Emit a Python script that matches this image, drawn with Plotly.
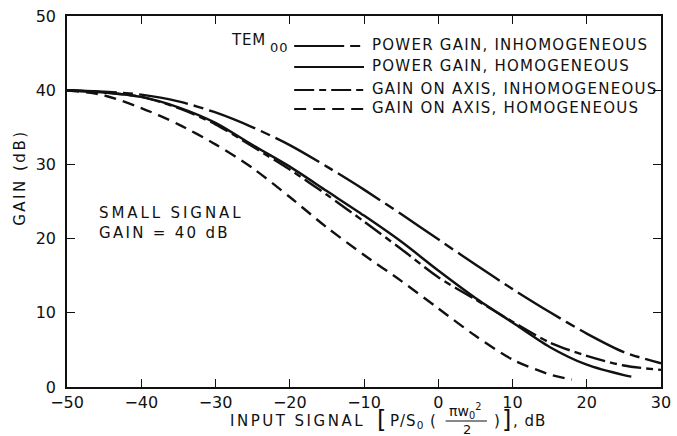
import plotly.graph_objects as go

# ---------------- data ----------------
x_pg_inh = [-50, -45, -40, -35, -30, -25, -20, -15, -10, -5, 0, 5, 10, 15, 20, 25, 30]
y_pg_inh = [40.0, 39.8, 39.4, 38.5, 37.0, 35.0, 32.6, 29.7, 26.6, 23.3, 19.9, 16.5, 13.2, 10.1, 7.2, 4.7, 3.2]

x_pg_hom = [-50, -45, -40, -35, -30, -25, -20, -15, -10, -5, 0, 5, 10, 15, 20, 25, 26]
y_pg_hom = [40.0, 39.7, 39.1, 37.7, 35.6, 32.6, 29.7, 26.4, 23.1, 19.6, 15.7, 12.0, 8.7, 5.4, 3.0, 1.6, 1.4]

x_ga_inh = [-50, -45, -40, -35, -30, -25, -20, -15, -10, -5, 0, 5, 10, 15, 20, 25, 30]
y_ga_inh = [40.0, 39.7, 39.1, 37.6, 35.4, 32.4, 29.3, 25.9, 22.3, 18.6, 14.8, 11.8, 8.8, 6.0, 4.2, 2.9, 2.3]

x_ga_hom = [-50, -45, -40, -35, -30, -25, -20, -15, -10, -5, 0, 5, 10, 15, 18]
y_ga_hom = [40.0, 39.3, 37.6, 35.4, 32.7, 29.5, 25.6, 21.5, 17.8, 14.3, 10.6, 6.9, 3.7, 1.7, 1.0]

series_names = ["POWER GAIN, INHOMOGENEOUS", "POWER GAIN, HOMOGENEOUS",
                "GAIN ON AXIS, INHOMOGENEOUS", "GAIN ON AXIS, HOMOGENEOUS"]
x_ticks = [-50, -40, -30, -20, -10, 0, 10, 20, 30]
y_ticks = [0, 10, 20, 30, 40, 50]

# ---------------- layout geometry ----------------
W, H = 677, 436
L, R, T, B = 67, 671, 16, 387
FONT = "DejaVu Sans"
INK = "#111111"


def px(xp):
    return (xp - L) / (R - L)


def py(yp):
    return (B - yp) / (B - T)


dashes = ["50px,6px,10px,6px", "solid", "20px,5px,7px,5px", "12px,7px"]
xs = [x_pg_inh, x_pg_hom, x_ga_inh, x_ga_hom]
ys = [y_pg_inh, y_pg_hom, y_ga_inh, y_ga_hom]

fig = go.Figure()
for name, xv, yv, d in zip(series_names, xs, ys, dashes):
    fig.add_trace(go.Scatter(x=xv, y=yv, mode="lines", name=name,
                             line=dict(color=INK, width=2.4, dash=d, shape="spline", smoothing=0.8),
                             showlegend=False))

axis_common = dict(showline=True, linecolor=INK, linewidth=1.6, mirror="ticks",
                   ticks="inside", ticklen=8, tickwidth=1.3, tickcolor=INK,
                   showgrid=False, zeroline=False, ticklabeloverflow="allow",
                   tickfont=dict(family=FONT, size=16, color=INK))

fig.update_xaxes(range=[-50, 30], tickvals=x_ticks, ticklabelstandoff=0, **axis_common)
fig.update_yaxes(range=[0, 50], tickvals=y_ticks, ticklabelstandoff=6, **axis_common)

ann = []
shapes = []


def text(x, y, s, size=15, anchor="left", spacing=0.0, angle=0):
    if spacing:
        s = f'<span style="letter-spacing:{spacing}px">{s}</span>'
    ann.append(dict(x=px(x), y=py(y), xref="paper", yref="paper", text=s, showarrow=False,
                    xanchor=anchor, yanchor="middle", textangle=angle,
                    font=dict(family=FONT, size=size, color=INK)))


# legend block
text(232, 40, "TEM", size=15, spacing=0.8)
text(271, 47, "00", size=13, spacing=1.0)
row_y = [45, 66, 89, 108]
for name, d, yy in zip(series_names, dashes, row_y):
    shapes.append(dict(type="line", xref="paper", yref="paper",
                       x0=px(298), x1=px(369), y0=py(yy + 1), y1=py(yy + 1),
                       line=dict(color=INK, width=2.0, dash=d)))
    text(375, yy, name, size=15, spacing=1.25)

# small-signal note
text(98, 213, "SMALL SIGNAL", size=15, spacing=2.9)
text(98, 233, "GAIN = 40 dB", size=15, spacing=2.3)

# y axis title
text(19, 178, "GAIN (dB)", size=15, anchor="center", spacing=2.5, angle=-90)

# x axis title: INPUT SIGNAL [P/S0 (pi w0^2 / 2)], dB
text(231, 421, "INPUT SIGNAL", size=15, spacing=2.5)
text(380, 420, "[", size=24)
text(393, 421, "P/S<sub>0</sub> (", size=15, spacing=1.0)
text(472, 411, "πw<sub>0</sub><sup>2</sup>", size=14, anchor="center")
shapes.append(dict(type="line", xref="paper", yref="paper", x0=px(452), x1=px(494),
                   y0=py(421), y1=py(421), line=dict(color=INK, width=1.2)))
text(474, 429, "2", size=13, anchor="center")
text(499, 421, ")", size=15)
text(507, 420, "]", size=24)
text(518, 421, ", dB", size=15, spacing=1.0)

fig.update_layout(width=W, height=H, margin=dict(l=L, r=W - R, t=T, b=H - B),
                  paper_bgcolor="white", plot_bgcolor="white",
                  annotations=ann, shapes=shapes, showlegend=False)

fig.write_html("out.html")
